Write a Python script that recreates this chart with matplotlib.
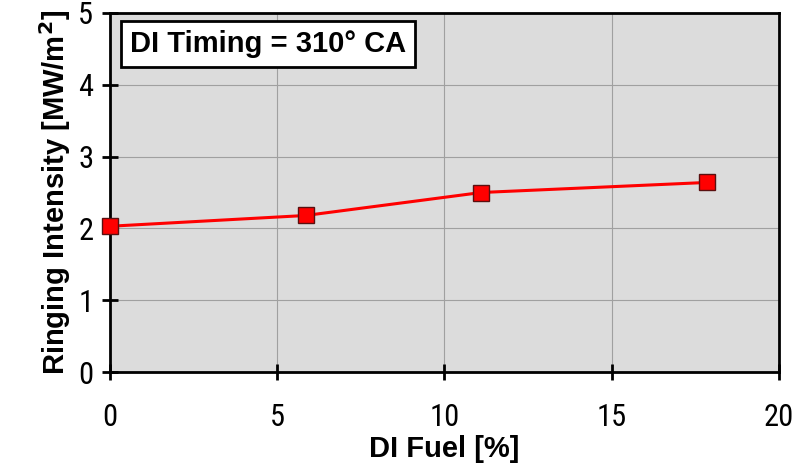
import matplotlib
matplotlib.use("Agg")
import matplotlib.pyplot as plt
from matplotlib import font_manager

# data
di_fuel = [0.0, 5.85, 11.1, 17.85]
ringing = [2.03, 2.18, 2.50, 2.64]
x_ticks = [0, 5, 10, 15, 20]
y_ticks = [0, 1, 2, 3, 4, 5]


def pick(names):
    for n in names:
        try:
            font_manager.findfont(n, fallback_to_default=False)
            return n
        except Exception:
            pass
    return 'DejaVu Sans'


bold_font = pick(['Liberation Sans', 'Arial', 'Noto Sans'])
narrow_font = pick(['Liberation Sans Narrow', 'Arial Narrow', 'Roboto Condensed',
                    'Open Sans Condensed', bold_font])
plt.rcParams['font.family'] = [bold_font, 'DejaVu Sans']

fig = plt.figure(figsize=(8.01, 4.69), dpi=100)
ax = fig.add_axes([0.1373, 0.2068, 0.8352, 0.7655])
ax.set_facecolor('#DCDCDC')

ax.plot(di_fuel, ringing, color='#FF0000', lw=2.2, marker='s', ms=12,
        mfc='#FF0000', mec='#5A1010', mew=1.0, zorder=3, clip_on=False)

ax.set_xlim(0, 20)
ax.set_ylim(0, 5)
ax.set_xticks(x_ticks)
ax.set_yticks(y_ticks)
ax.grid(True, color='#A0A0A0', lw=0.8)
ax.set_axisbelow(True)

for s in ax.spines.values():
    s.set_linewidth(2.0)
    s.set_color('black')

ax.tick_params(direction='inout', length=12, width=2.0, pad=6)
for lab in ax.get_xticklabels() + ax.get_yticklabels():
    lab.set_family([narrow_font, 'DejaVu Sans'])
    lab.set_fontsize(22)
for lab in ax.get_xticklabels():
    lab.set_y(-0.04)

ax.set_xlabel('DI Fuel [%]', fontsize=21, fontweight='bold', labelpad=2)
ax.set_ylabel('Ringing Intensity [MW/m$^\\mathbf{2}$]', fontsize=21,
              fontweight='bold', labelpad=4)

ax.text(0.03, 0.913, 'DI Timing = 310° CA', transform=ax.transAxes,
        fontsize=21, fontweight='bold', va='center', ha='left',
        bbox=dict(boxstyle='square,pad=0.3', fc='white', ec='black', lw=2.0))

fig.savefig('out.png', dpi=100)
